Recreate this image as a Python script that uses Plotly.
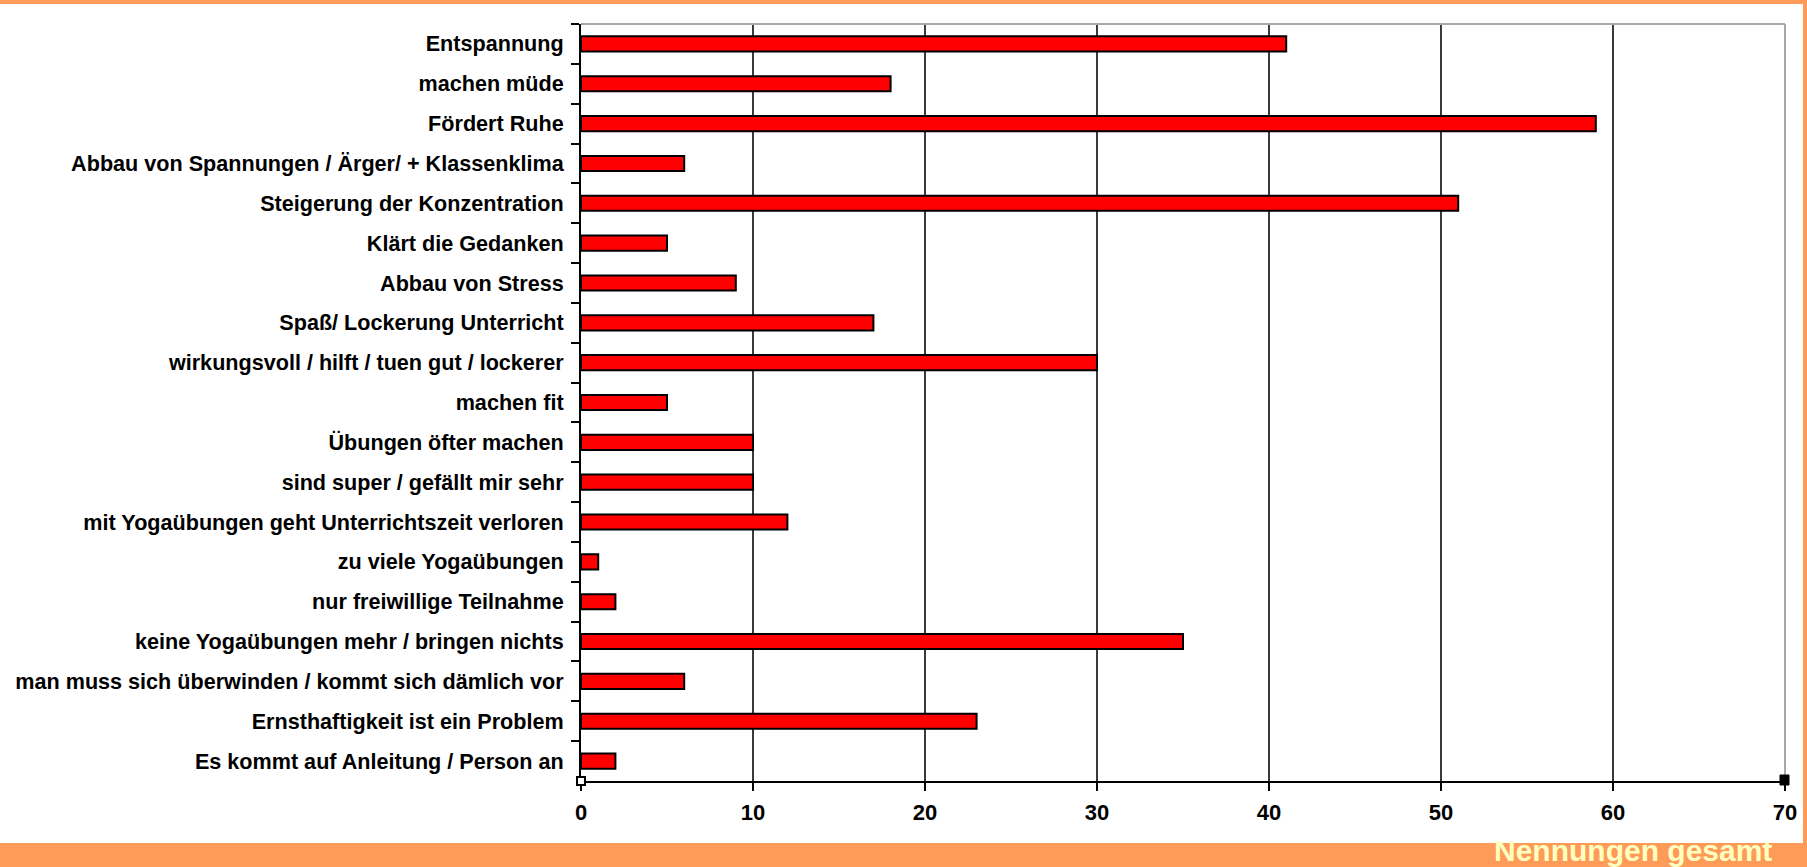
import plotly.graph_objects as go

# Antworten (Kategorien) und Anzahl der Nennungen
categories = [
    "Entspannung",
    "machen müde",
    "Fördert Ruhe",
    "Abbau von Spannungen / Ärger/ + Klassenklima",
    "Steigerung der Konzentration",
    "Klärt die Gedanken",
    "Abbau von Stress",
    "Spaß/ Lockerung Unterricht",
    "wirkungsvoll / hilft / tuen gut / lockerer",
    "machen fit",
    "Übungen öfter machen",
    "sind super / gefällt mir sehr",
    "mit Yogaübungen geht Unterrichtszeit verloren",
    "zu viele Yogaübungen",
    "nur freiwillige Teilnahme",
    "keine Yogaübungen mehr / bringen nichts",
    "man muss sich überwinden / kommt sich dämlich vor",
    "Ernsthaftigkeit ist ein Problem",
    "Es kommt auf Anleitung / Person an",
]
counts = [41, 18, 59, 6, 51, 5, 9, 17, 30, 5, 10, 10, 12, 1, 2, 35, 6, 23, 2]
x_ticks = [0, 10, 20, 30, 40, 50, 60, 70]
axis_title = "Nennungen gesamt"

W, H = 1807, 867
L, R, T, B = 581, 22, 24, 86
ORANGE = "#FF9B58"


def px_x(px):
    return (px - L) / (W - L - R)


def px_y(py):
    return (H - B - py) / (H - T - B)


fig = go.Figure(
    go.Bar(
        x=counts,
        y=categories,
        orientation="h",
        marker=dict(color="#FF0000", line=dict(color="#000000", width=2)),
        hoverinfo="x+y",
    )
)

label_font = dict(family="Liberation Sans, Arial", size=21.6, color="#000000", weight="bold")
tick_font = dict(family="Liberation Sans, Arial", size=22, color="#000000", weight="bold")

fig.update_layout(
    width=W,
    height=H,
    margin=dict(l=L, r=R, t=T, b=B, pad=0, autoexpand=False),
    paper_bgcolor="#FFFFFF",
    plot_bgcolor="#FFFFFF",
    bargap=0.62,
    showlegend=False,
    xaxis=dict(
        range=[0, 70],
        tickvals=x_ticks,
        ticktext=[str(v) for v in x_ticks],
        showgrid=True,
        gridcolor="#3A3A3A",
        gridwidth=2,
        zeroline=False,
        showline=True,
        linecolor="#000000",
        linewidth=2,
        ticks="outside",
        ticklen=8,
        tickwidth=2,
        tickcolor="#000000",
        tickfont=tick_font,
        ticklabelstandoff=3,
        automargin=False,
        fixedrange=True,
    ),
    yaxis=dict(
        type="category",
        autorange="reversed",
        showgrid=False,
        zeroline=False,
        showline=True,
        linecolor="#000000",
        linewidth=2,
        ticks="outside",
        tickson="boundaries",
        ticklen=8,
        tickwidth=2,
        tickcolor="#000000",
        tickfont=label_font,
        ticklabelstandoff=11,
        automargin=False,
        fixedrange=True,
    ),
)

shapes = [
    # light frame on top and right of the plot area
    dict(type="line", xref="paper", yref="paper", x0=0, x1=1, y0=1, y1=1,
         line=dict(color="#A8A8A8", width=2), layer="above"),
    dict(type="line", xref="paper", yref="paper", x0=1, x1=1, y0=0, y1=1,
         line=dict(color="#A8A8A8", width=2), layer="above"),
    # selection handles at both ends of the value axis
    dict(type="rect", xref="paper", yref="paper", x0=px_x(577), x1=px_x(585),
         y0=px_y(785), y1=px_y(777), fillcolor="#FFFFFF",
         line=dict(color="#000000", width=2), layer="above"),
    dict(type="rect", xref="paper", yref="paper", x0=px_x(1780), x1=px_x(1789),
         y0=px_y(785), y1=px_y(775), fillcolor="#000000",
         line=dict(color="#000000", width=1), layer="above"),
    # orange page border
    dict(type="rect", xref="paper", yref="paper", x0=px_x(0), x1=px_x(W),
         y0=px_y(4), y1=px_y(0), fillcolor=ORANGE, line=dict(width=0), layer="above"),
    dict(type="rect", xref="paper", yref="paper", x0=px_x(1803), x1=px_x(W),
         y0=px_y(H), y1=px_y(0), fillcolor=ORANGE, line=dict(width=0), layer="above"),
    dict(type="rect", xref="paper", yref="paper", x0=px_x(0), x1=px_x(W),
         y0=px_y(H), y1=px_y(843), fillcolor=ORANGE, line=dict(width=0), layer="above"),
]
fig.update_layout(shapes=shapes)

fig.add_annotation(
    text=axis_title,
    xref="paper", yref="paper",
    x=px_x(1633), y=px_y(850),
    xanchor="center", yanchor="middle",
    showarrow=False,
    font=dict(family="Liberation Sans, Arial", size=30, color="#FFFFC0", weight="bold"),
)

fig.write_html("out.html", config={"displayModeBar": False})
